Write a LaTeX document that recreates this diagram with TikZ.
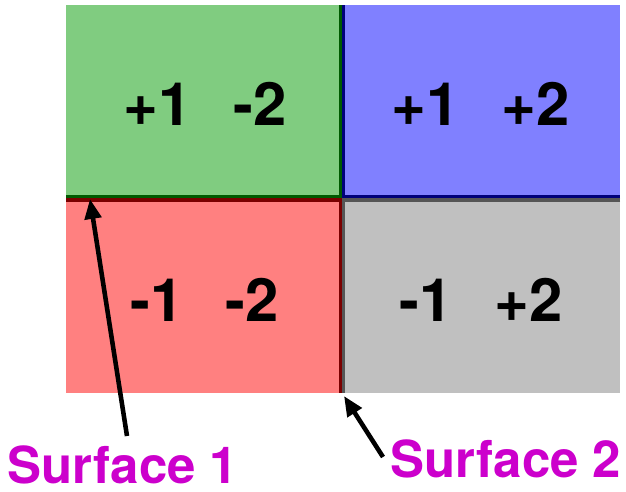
\documentclass[tikz,border=0pt]{standalone}
\usepackage{fontspec}
\setmainfont{TeX Gyre Heros}
\usetikzlibrary{arrows.meta}
\definecolor{quadgreen}{HTML}{80CC80}
\definecolor{quadblue}{HTML}{8080FF}
\definecolor{quadred}{HTML}{FF8080}
\definecolor{quadgray}{HTML}{C0C0C0}
\definecolor{edgegreen}{HTML}{005A00}
\definecolor{edgeblue}{HTML}{00007A}
\definecolor{edgered}{HTML}{7A0000}
\definecolor{edgegray}{HTML}{555555}
\definecolor{surfmagenta}{HTML}{CC00CC}
\tikzset{
    sign/.style={
        font=\bfseries\fontsize{51}{58}\selectfont
    },
    surf/.style={
        text=surfmagenta, inner sep=0pt, font=\bfseries\fontsize{43.5}{50}\selectfont
    },
    ptr/.style={
        -{Triangle[length=17pt,width=14pt]}, line width=3.9pt
    }
}

\begin{document}
\begin{tikzpicture}[x=0.03cm,y=-0.03cm]

\useasboundingbox (0,0) rectangle (626,491);

\def\xL{66}
\def\xM{342}
\def\xR{620}
\def\yT{5}
\def\yM{198.5}
\def\yB{393}

% the four regions
\fill[quadgreen] (\xL,\yT) rectangle (\xM,\yM);
\fill[quadblue]  (\xM,\yT) rectangle (\xR,\yM);
\fill[quadred]   (\xL,\yM) rectangle (\xM,\yB);
\fill[quadgray]  (\xM,\yM) rectangle (\xR,\yB);

% inner edges of each region
\draw[edgegreen, line width=2.6pt] (\xL,\yM-1.5) -- (\xM-1.5,\yM-1.5) -- (\xM-1.5,\yT);
\draw[edgeblue, line width=2.6pt] (\xR,\yM-1.5) -- (\xM+1.5,\yM-1.5) -- (\xM+1.5,\yT);
\draw[edgered, line width=2.6pt] (\xL,\yM+1.5) -- (\xM-1.5,\yM+1.5) -- (\xM-1.5,\yB);
\draw[edgegray, line width=2.6pt] (\xR,\yM+1.5) -- (\xM+1.5,\yM+1.5) -- (\xM+1.5,\yB);

% signs
\node[sign] (pm) at (205,104) {+1\hspace{0.7em}-2};
\node[sign] (pp) at (481,104) {+1\hspace{0.7em}+2};
\node[sign] (mm) at (205,300) {-1\hspace{0.7em}-2};
\node[sign] (mp) at (481,300) {-1\hspace{0.7em}+2};

% surfaces
\node[surf] (s1) at (123,465) {Surface 1};
\node[surf] (s2) at (506,459) {Surface 2};

\coordinate (s1tail) at (127,436);
\coordinate (s1tip) at (90,199);
\coordinate (s2tail) at (383,457);
\coordinate (s2tip) at (344,396);

\draw[ptr] (s1tail) -- (s1tip);
\draw[ptr] (s2tail) -- (s2tip);

\end{tikzpicture}
\end{document}
